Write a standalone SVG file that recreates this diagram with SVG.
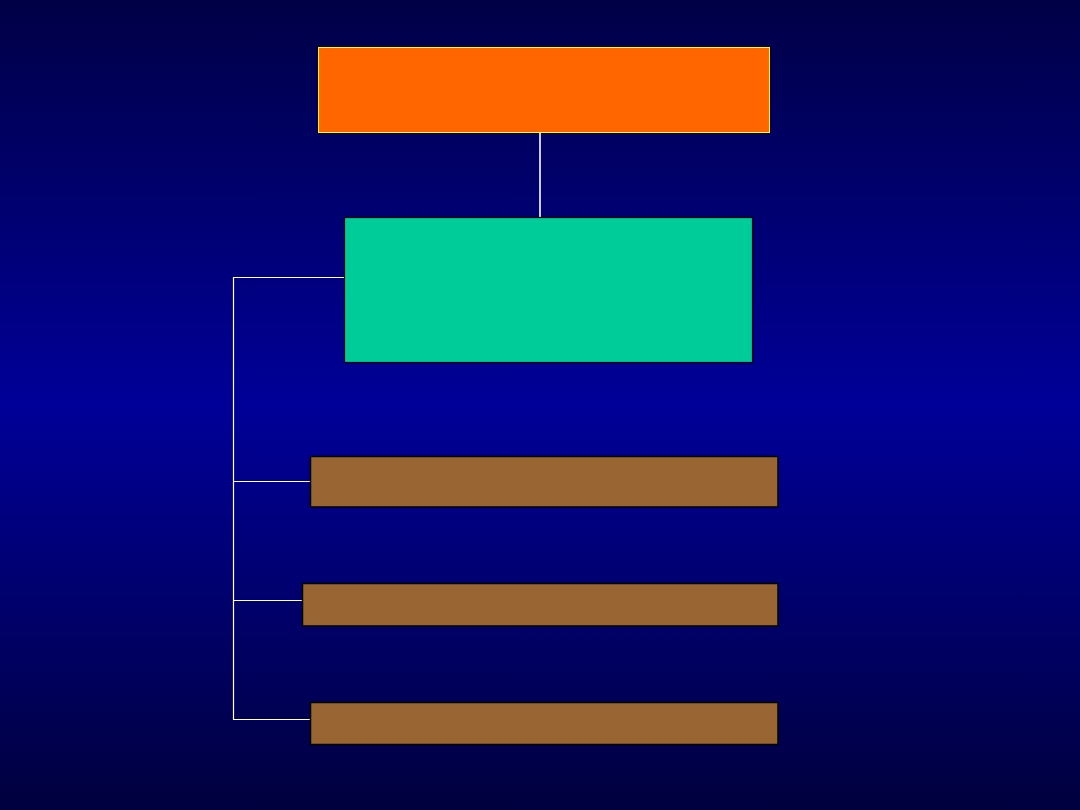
<svg xmlns="http://www.w3.org/2000/svg" width="1080" height="810" viewBox="0 0 1080 810">
<defs>
<linearGradient id="bg" x1="0" y1="0" x2="0" y2="1">
<stop offset="0" stop-color="#000046"/>
<stop offset="0.5" stop-color="#000098"/>
<stop offset="1" stop-color="#00003e"/>
</linearGradient>
</defs>
<style>
.conn{stroke:#ffffff;stroke-width:1.2;fill:none}
.brown{fill:#996633;stroke:#000000;stroke-width:1.5}
</style>
<rect x="0" y="0" width="1080" height="810" fill="url(#bg)"/>
<g id="connectors">
<line class="conn" x1="540" y1="132" x2="540" y2="218" style="stroke-width:1.6"/>
<polyline class="conn" points="344,277.5 233.5,277.5 233.5,719.5 310,719.5"/>
<line class="conn" x1="233.5" y1="481.5" x2="310" y2="481.5"/>
<line class="conn" x1="233.5" y1="600.5" x2="302" y2="600.5"/>
</g>
<g id="node-top">
<rect x="318.5" y="47.5" width="451" height="85" fill="#ff6600" stroke="#ffff00" stroke-width="1"/>
</g>
<g id="node-main">
<rect x="344.5" y="217.5" width="408" height="145" fill="#00cc99" stroke="#000000" stroke-width="1.2"/>
</g>
<g id="node-b1">
<rect class="brown" x="310.5" y="456.5" width="467.5" height="50.5"/>
</g>
<g id="node-b2">
<rect class="brown" x="302.5" y="583.5" width="475.5" height="42.5"/>
</g>
<g id="node-b3">
<rect class="brown" x="310.5" y="702.5" width="467.5" height="42"/>
</g>
</svg>
